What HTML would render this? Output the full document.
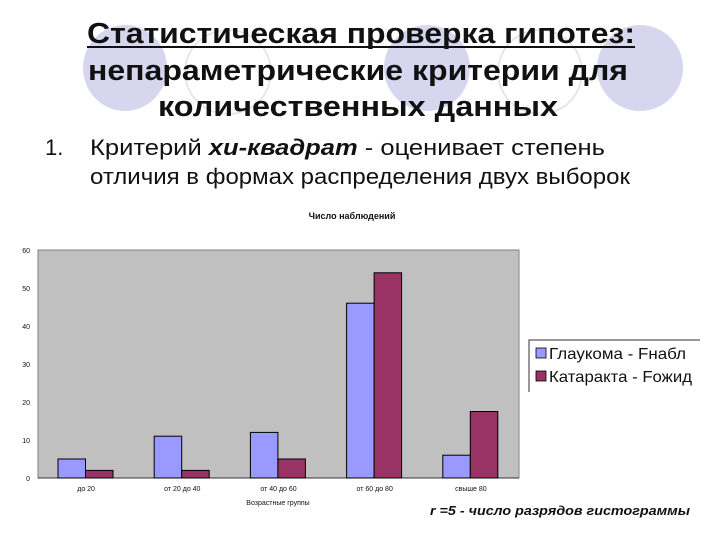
<!DOCTYPE html>
<html><head><meta charset="utf-8"><style>
html,body{margin:0;padding:0;background:#fff;}
svg{display:block;font-family:"Liberation Sans",sans-serif;}
</style></head><body>
<svg width="720" height="540" viewBox="0 0 720 540">
  <g>
    <ellipse cx="125" cy="68" rx="42" ry="43" fill="#d6d6ee"/>
    <ellipse cx="228" cy="72" rx="43" ry="42" fill="none" stroke="#e0e0ee" stroke-width="1.5"/>
    <ellipse cx="427" cy="68" rx="43" ry="43" fill="#d6d6ee"/>
    <ellipse cx="540" cy="72" rx="42" ry="42" fill="none" stroke="#e0e0ee" stroke-width="1.5"/>
    <ellipse cx="640" cy="68" rx="43" ry="43" fill="#d6d6ee"/>
  </g>
  <g font-weight="bold" font-size="29" fill="#111" text-anchor="middle">
    <text x="361" y="43" textLength="548" lengthAdjust="spacingAndGlyphs">Статистическая проверка гипотез:</text>
    <line x1="87" y1="47" x2="635" y2="47" stroke="#111" stroke-width="2"/>
    <text x="358" y="80" textLength="540" lengthAdjust="spacingAndGlyphs">непараметрические критерии для</text>
    <text x="358" y="116" textLength="400" lengthAdjust="spacingAndGlyphs">количественных данных</text>
  </g>
  <g font-size="22" fill="#111">
    <text x="45" y="155">1.</text>
    <text x="90" y="155" textLength="515" lengthAdjust="spacingAndGlyphs">Критерий <tspan font-weight="bold" font-style="italic">хи-квадрат</tspan>  - оценивает степень</text>
    <text x="90" y="184" textLength="540" lengthAdjust="spacingAndGlyphs">отличия в формах распределения двух выборок</text>
  </g>
  <g id="chart"></g>
  <text x="430" y="515" font-size="13" font-weight="bold" font-style="italic" fill="#111" textLength="260" lengthAdjust="spacingAndGlyphs">r =5  -  число разрядов гистограммы</text>
</svg>
<script>
const categories = ["до 20", "от 20  до 40", "от 40 до 60", "от 60 до 80", "свыше 80"];
const glaucoma = [5, 11, 12, 46, 6];
const cataract = [2, 2, 5, 54, 17.5];
const yTicks = [0, 10, 20, 30, 40, 50, 60];
const seriesNames = ["Глаукома  -  Fнабл", "Катаракта  -  Fожид"];

const NS = "http://www.w3.org/2000/svg";
const g = document.getElementById("chart");
const L = 38, R = 519, T = 250, B = 478, yMax = 60;
const y = v => B - v / yMax * (B - T);
const bw = (R - L) / categories.length;
const xCat = i => L + i * bw;
function mk(tag, attrs, parent) {
  const e = document.createElementNS(NS, tag);
  for (const k in attrs) e.setAttribute(k, attrs[k]);
  (parent || g).appendChild(e);
  return e;
}
const title = mk("text", {x: 352, y: 219, "font-size": 9, "font-weight": "bold", "text-anchor": "middle", fill: "#111"});
title.textContent = "Число наблюдений";


const plot = mk("rect", {x: L, y: T, width: R - L, height: B - T, fill: "#c0c0c0", stroke: "#808080", "stroke-width": 1});


yTicks.forEach(t => {
  const tx = mk("text", {x: 30, y: y(t) + 3, "font-size": 7, fill: "#111", "text-anchor": "end"});
  tx.textContent = t;
  
  
});
mk("line", {x1: L, y1: B, x2: R, y2: B, stroke: "#333", "stroke-width": 1});
categories.forEach((c, i) => {
  const x0 = xCat(i) + 20, w = 27.5;
  const b1 = mk("rect", {x: x0, y: y(glaucoma[i]), width: w, height: B - y(glaucoma[i]), fill: "#9999ff", stroke: "#000", "stroke-width": 1});
  
  
  const b2 = mk("rect", {x: x0 + w, y: y(cataract[i]), width: w, height: B - y(cataract[i]), fill: "#993366", stroke: "#000", "stroke-width": 1});
  
  
  const lb = mk("text", {x: xCat(i) + bw / 2, y: 491, "font-size": 7, fill: "#111", "text-anchor": "middle"});
  lb.textContent = c;
  
  
});
const xt = mk("text", {x: 278, y: 505, "font-size": 7, fill: "#111", "text-anchor": "middle"});
xt.textContent = "Возрастные группы";


const lg = mk("g", {});


mk("path", {d: "M700 340 H529 V392", fill: "none", stroke: "#333", "stroke-width": 1}, lg);
const colors = ["#9999ff", "#993366"];
const legendLens = [137, 143];
seriesNames.forEach((n, i) => {
  const yy = 353 + i * 23;
  const sw = mk("rect", {x: 536, y: yy - 5, width: 10, height: 10, fill: colors[i], stroke: "#000", "stroke-width": 0.8}, lg);
  
  
  const t = mk("text", {x: 549, y: yy + 6, "font-size": 16, fill: "#111", textLength: legendLens[i], lengthAdjust: "spacingAndGlyphs"}, lg);
  t.textContent = n;
  
  
});
</script>
</body></html>
